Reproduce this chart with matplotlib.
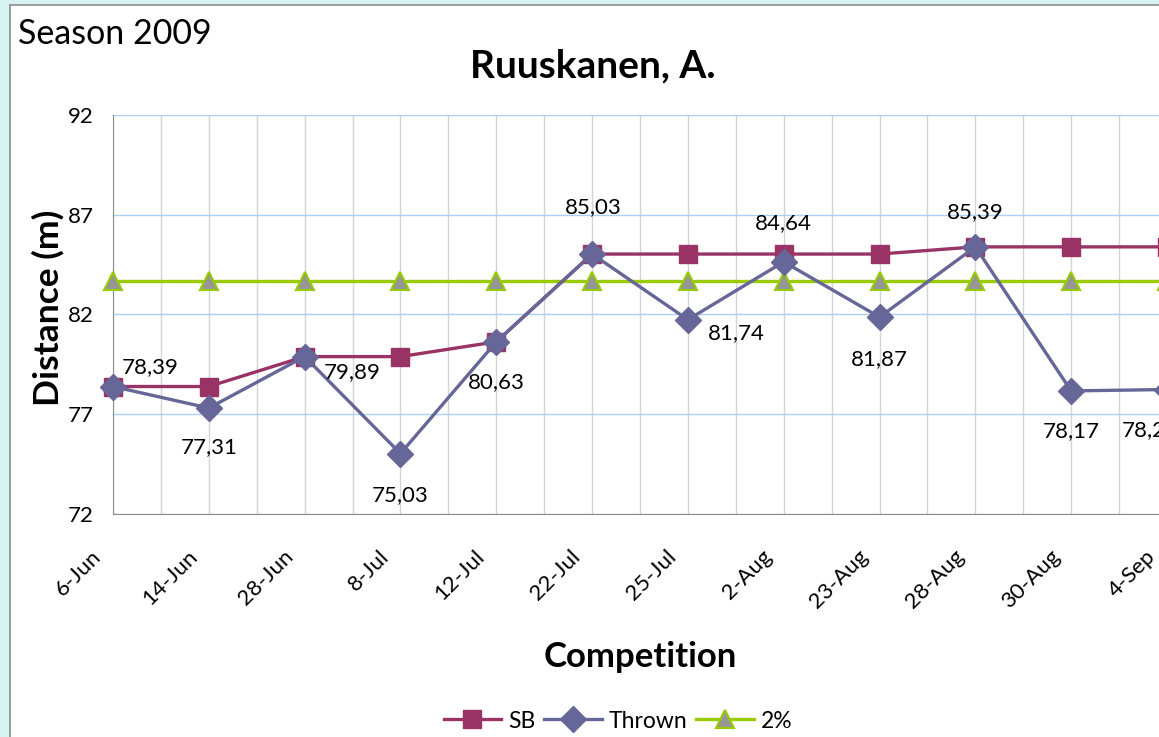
import matplotlib.pyplot as plt
from matplotlib.patches import Rectangle
from matplotlib.transforms import ScaledTranslation

plt.rcParams['font.family'] = ['Lato', 'DejaVu Sans']

competitions = ['6-Jun', '14-Jun', '28-Jun', '8-Jul', '12-Jul', '22-Jul',
                '25-Jul', '2-Aug', '23-Aug', '28-Aug', '30-Aug', '4-Sep']
sb = [78.39, 78.39, 79.89, 79.89, 80.63, 85.03, 85.03, 85.03, 85.03, 85.39, 85.39, 85.39]
thrown = [78.39, 77.31, 79.89, 75.03, 80.63, 85.03, 81.74, 84.64, 81.87, 85.39, 78.17, 78.24]
two_pct = [83.68] * 12

# label offsets (points) for the Thrown data labels
label_offsets = [(27, 14), (0, -28), (34, -11), (0, -30), (0, -29), (1, 34),
                 (35, -10), (0, 28), (0, -30), (0, 25), (0, -29), (-12, -29)]

W, H = 1159, 737
fig = plt.figure(figsize=(W / 100, H / 100), dpi=100, facecolor='#d6f4f2')
fig.patches.append(Rectangle((10 / W, -0.1), 1.2, 1 - 5 / H + 0.1,
                             transform=fig.transFigure, facecolor='white',
                             edgecolor='#8c8c8c', linewidth=1.2, zorder=-5))

ax = fig.add_axes([113 / W, (H - 514) / H, (1167 - 113) / W, 399 / H])
ax.set_facecolor('none')
x = list(range(len(competitions)))

ax.plot(x, sb, color='#993366', lw=2.4, marker='s', ms=13, label='SB',
        clip_on=False, zorder=4)
ax.plot(x, thrown, color='#666699', lw=2.4, marker='D', ms=13, label='Thrown',
        clip_on=False, zorder=5)
ax.plot(x, two_pct, color='#99cc00', lw=2.4, marker='^', ms=13,
        markerfacecolor='#969696', markeredgecolor='#99cc00', markeredgewidth=1.5,
        label='2%', clip_on=False, zorder=3)

for i, v in enumerate(thrown):
    ax.annotate(f'{v:.2f}'.replace('.', ','), (i, v), xytext=label_offsets[i],
                textcoords='offset points', ha='center', va='center',
                fontsize=16, annotation_clip=False, zorder=6)

ax.set_xlim(0, 11)
ax.set_ylim(72, 92)
ax.set_yticks([72, 77, 82, 87, 92])
ax.set_xticks(x)
ax.set_xticklabels(competitions, rotation=45, ha='right', rotation_mode='anchor')
ax.set_xticks([i + 0.5 for i in x[:-1]], minor=True)
ax.tick_params(axis='both', which='both', length=0, labelsize=16, pad=14)
ax.tick_params(axis='x', pad=14)

# shift the rotated date labels left/down like the original
shift = ScaledTranslation(-22 / 100, -13 / 100, fig.dpi_scale_trans)
for lab in ax.get_xticklabels():
    lab.set_transform(lab.get_transform() + shift)

ax.grid(axis='y', color='#a9d0f5', lw=1)
ax.grid(axis='x', which='both', color='#d4d4d4', lw=1)
ax.set_axisbelow(True)
for s in ['top', 'right']:
    ax.spines[s].set_visible(False)
for s in ['left', 'bottom']:
    ax.spines[s].set_color('#8c8c8c')

fig.text(48 / W, 1 - 308 / H, 'Distance (m)', fontsize=25.5, fontweight='bold',
         rotation=90, ha='center', va='center')
fig.text(640 / W, 1 - 657 / H, 'Competition', fontsize=25, fontweight='bold',
         ha='center', va='center')
fig.text(593 / W, 1 - 66 / H, 'Ruuskanen, A.', fontsize=28, fontweight='bold',
         ha='center', va='center')
fig.text(18 / W, 1 - 34 / H, 'Season 2009', fontsize=24.5, ha='left', va='center')

fig.legend(loc='center', bbox_to_anchor=(618 / W, 1 - 721 / H), ncol=3,
           frameon=False, fontsize=16.5, handlelength=2.5, handletextpad=0.3,
           columnspacing=0.4)

fig.savefig('out.png', dpi=100, facecolor=fig.get_facecolor())
